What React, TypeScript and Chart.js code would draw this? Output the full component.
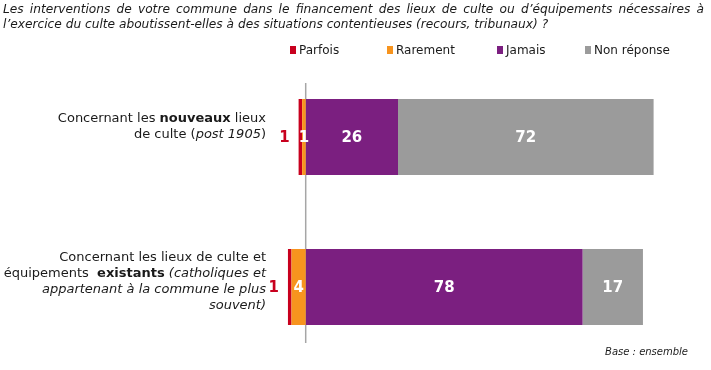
import React, { useEffect, useRef } from "react";
import { Chart, registerables } from "chart.js";

Chart.register(...registerables);

// ---- Data ----
const categories = [
  "Concernant les nouveaux lieux de culte (post 1905)",
  "Concernant les lieux de culte et équipements existants (catholiques et appartenant à la commune le plus souvent)",
];
const seriesNames = ["Parfois", "Rarement", "Jamais", "Non réponse"];
const parfois = [1, 1];
const rarement = [1, 4];
const jamais = [26, 78];
const nonReponse = [72, 17];

const titleLines = [
  "Les interventions de votre commune dans le financement des lieux de culte ou d’équipements nécessaires à",
  "l’exercice du culte aboutissent-elles à des situations contentieuses (recours, tribunaux) ?",
];
const footnote = "Base : ensemble";

// rich text for category labels: [text, style] with n=normal, b=bold, i=italic
const categoryLines: [string, string][][][] = [
  [
    [["Concernant les ", "n"], ["nouveaux", "b"], [" lieux", "n"]],
    [["de culte (", "n"], ["post 1905", "i"], [")", "n"]],
  ],
  [
    [["Concernant les lieux de culte et", "n"]],
    [["équipements  ", "n"], ["existants", "b"], [" (catholiques et", "i"]],
    [["appartenant à la commune le plus", "i"]],
    [["souvent)", "i"]],
  ],
];

const COLORS: Record<string, string> = {
  Parfois: "#C8001E",
  Rarement: "#F7941E",
  Jamais: "#7B1F80",
  "Non réponse": "#9B9B9B",
};

const FONT = "'DejaVu Sans', Verdana, sans-serif";

const decorPlugin = {
  id: "decor",
  beforeDatasetsDraw(chart: any) {
    const ctx = chart.ctx;
    const x = chart.scales.x.getPixelForValue(0);
    const area = chart.chartArea;
    ctx.save();
    ctx.strokeStyle = "#A6A6A6";
    ctx.lineWidth = 1.5;
    ctx.beginPath();
    ctx.moveTo(x, area.top + 21);
    ctx.lineTo(x, area.bottom - 19);
    ctx.stroke();
    ctx.restore();
  },
  afterDatasetsDraw(chart: any) {
    const ctx = chart.ctx;
    ctx.save();
    ctx.textBaseline = "middle";
    chart.data.datasets.forEach((ds: any, di: number) => {
      const meta = chart.getDatasetMeta(di);
      meta.data.forEach((bar: any, i: number) => {
        const v = Math.abs(ds.data[i]);
        const left = Math.min(bar.x, bar.base);
        const right = Math.max(bar.x, bar.base);
        ctx.font = `bold 15px ${FONT}`;
        if (ds.label === "Parfois") {
          ctx.fillStyle = COLORS.Parfois;
          ctx.textAlign = "right";
          ctx.fillText(String(v), left - 9, bar.y + 1);
        } else {
          ctx.fillStyle = "#FFFFFF";
          ctx.textAlign = "center";
          ctx.fillText(String(v), (left + right) / 2, bar.y + 1);
        }
      });
    });
    ctx.restore();
  },
  afterDraw(chart: any) {
    const ctx = chart.ctx;
    ctx.save();
    ctx.textBaseline = "middle";

    // Title (first line justified)
    ctx.fillStyle = "#1a1a1a";
    ctx.font = `italic 12.2px ${FONT}`;
    const words = titleLines[0].split(" ");
    const widths = words.map((w) => ctx.measureText(w).width);
    const total = widths.reduce((a, b) => a + b, 0);
    const L = 3, R = 704;
    const gap = (R - L - total) / (words.length - 1);
    let cx = L;
    ctx.textAlign = "left";
    words.forEach((w, i) => {
      ctx.fillText(w, cx, 10);
      cx += widths[i] + gap;
    });
    ctx.fillText(titleLines[1], L, 25);

    // Legend
    const legendX = [290, 387, 497, 585];
    ctx.font = `12px ${FONT}`;
    seriesNames.forEach((name, i) => {
      ctx.fillStyle = COLORS[name];
      ctx.fillRect(legendX[i], 46, 6, 8);
      ctx.fillStyle = "#1a1a1a";
      ctx.fillText(name, legendX[i] + 9, 50.5);
    });

    // Category labels
    const yScale = chart.scales.y;
    const offsets = [-10.5, -5.5];
    const lh = 15.8;
    ctx.fillStyle = "#1a1a1a";
    categoryLines.forEach((lines, ci) => {
      const cy = yScale.getPixelForValue(ci) + offsets[ci];
      const y0 = cy - ((lines.length - 1) * lh) / 2;
      lines.forEach((segs, li) => {
        const fontFor = (s: string) =>
          (s === "b" ? "bold " : s === "i" ? "italic " : "") + `13px ${FONT}`;
        const segW = segs.map(([t, s]) => {
          ctx.font = fontFor(s);
          return ctx.measureText(t).width;
        });
        const tw = segW.reduce((a, b) => a + b, 0);
        let sx = 266 - tw;
        ctx.textAlign = "left";
        segs.forEach(([t, s], k) => {
          ctx.font = fontFor(s);
          ctx.fillText(t, sx, y0 + li * lh);
          sx += segW[k];
        });
      });
    });

    // Footnote
    ctx.font = `italic 10px ${FONT}`;
    ctx.textAlign = "right";
    ctx.fillStyle = "#1a1a1a";
    ctx.fillText(footnote, 688, 352);
    ctx.restore();
  },
};

export default function App() {
  const ref = useRef<HTMLCanvasElement>(null);
  useEffect(() => {
    if (!ref.current) return;
    const seriesData: Record<string, number[]> = {
      Parfois: parfois.map((v) => -v),
      Rarement: rarement.map((v) => -v),
      Jamais: jamais,
      "Non réponse": nonReponse,
    };
    // stacking order: Rarement nearest zero on the negative side
    const stackOrder = ["Rarement", "Parfois", "Jamais", "Non réponse"];
    const chart = new Chart(ref.current, {
      type: "bar",
      data: {
        labels: categories,
        datasets: stackOrder.map((name) => ({
          label: name,
          data: seriesData[name],
          backgroundColor: COLORS[name],
          borderWidth: 0,
          barPercentage: 0.507,
          categoryPercentage: 1,
        })),
      },
      options: {
        indexAxis: "y",
        responsive: false,
        animation: false,
        devicePixelRatio: 1,
        layout: { padding: { left: 270.2, right: 50.3, top: 62, bottom: 8 } },
        scales: {
          x: { type: "linear", stacked: true, min: -10, max: 100, display: false },
          y: { type: "category", stacked: true, display: false },
        },
        plugins: {
          legend: { display: false },
          tooltip: { enabled: false },
          title: { display: false },
        },
      },
      plugins: [decorPlugin],
    });
    return () => chart.destroy();
  }, []);
  return (
    <div style={{ position: "absolute", left: 0, top: 0, width: 711, height: 370, background: "#fff" }}>
      <canvas ref={ref} width={711} height={370} style={{ display: "block" }} />
    </div>
  );
}
